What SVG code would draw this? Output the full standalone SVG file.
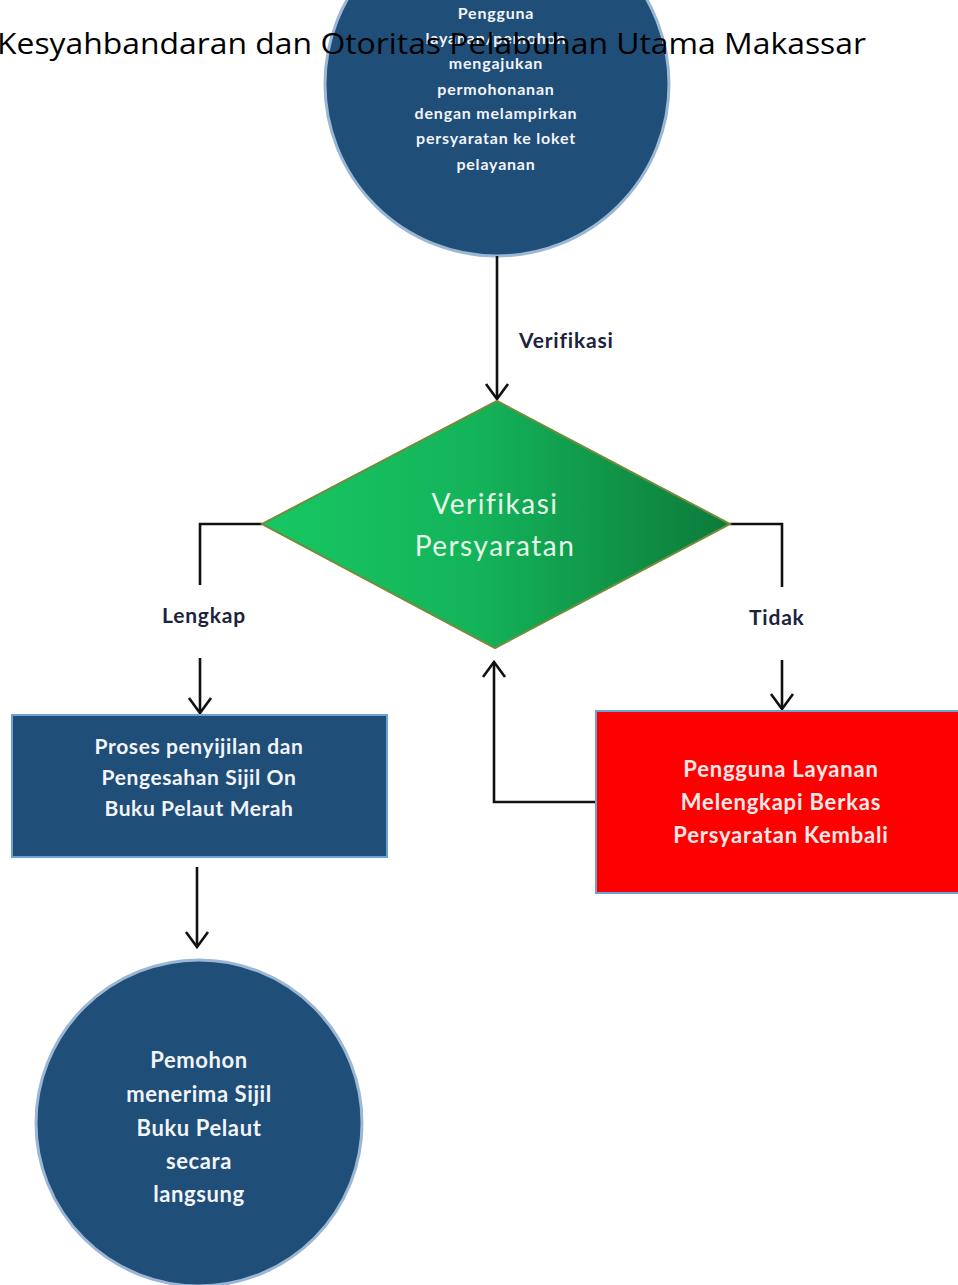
<svg xmlns="http://www.w3.org/2000/svg" width="958" height="1285" viewBox="0 0 958 1285">
<defs>
<linearGradient id="gd" x1="0" y1="0" x2="1" y2="0">
<stop offset="0" stop-color="#17c763"/>
<stop offset="0.45" stop-color="#14b45a"/>
<stop offset="1" stop-color="#0c7a3a"/>
</linearGradient>
<marker id="arr" viewBox="-18 -13 20 26" markerWidth="20" markerHeight="26" refX="0" refY="0" orient="auto" markerUnits="userSpaceOnUse">
<path d="M-15,-11 L0,0 L-15,11" fill="none" stroke="#111" stroke-width="2.6"/>
</marker>
<style>
.node-t{font-family:Lato,"Open Sans",sans-serif;fill:#f2f4f8;text-anchor:middle}
.lbl{font-family:Lato,"Open Sans",sans-serif;fill:#1c2340;font-size:21px;font-weight:bold;letter-spacing:0.8px}
.con{fill:none;stroke:#111;stroke-width:2.6}
.circ{fill:#1f4e79;stroke:#9bb7d3;stroke-width:3}
</style>
</defs>
<g id="start">
<circle class="circ" cx="497" cy="84" r="172"/>
<g class="node-t" font-size="16" font-weight="bold" letter-spacing="0.8">
<text x="496" y="19">Pengguna</text>
<text x="496" y="44">layanan/pemohon</text>
<text x="496" y="69">mengajukan</text>
<text x="496" y="95">permohonanan</text>
<text x="496" y="119">dengan melampirkan</text>
<text x="496" y="144">persyaratan ke loket</text>
<text x="496" y="170">pelayanan</text>
</g>
</g>
<g id="title">
<text x="-3" y="54" font-family="'Open Sans','Noto Sans',sans-serif" font-size="29" fill="#000" textLength="869" lengthAdjust="spacingAndGlyphs">Kesyahbandaran dan Otoritas Pelabuhan Utama Makassar</text>
</g>
<g id="connectors">
<path class="con" d="M497,256 V399" marker-end="url(#arr)"/>
<path class="con" d="M262,524 H200 V585"/>
<path class="con" d="M200,658 V713" marker-end="url(#arr)"/>
<path class="con" d="M730,524 H782 V587"/>
<path class="con" d="M782,660 V709" marker-end="url(#arr)"/>
<path class="con" d="M596,802 H494 V662" marker-end="url(#arr)"/>
<path class="con" d="M197,867 V947" marker-end="url(#arr)"/>
<text class="lbl" x="519" y="348">Verifikasi</text>
<text class="lbl" x="162" y="623">Lengkap</text>
<text class="lbl" x="749" y="625">Tidak</text>
</g>
<g id="decision">
<polygon points="497,401 730,524 495,648 262,524" fill="url(#gd)" stroke="#6f8d3c" stroke-width="2"/>
<g class="node-t" font-size="28" letter-spacing="1.5">
<text x="495" y="514" style="fill:#e6f6ea">Verifikasi</text>
<text x="495" y="556" style="fill:#e6f6ea">Persyaratan</text>
</g>
</g>
<g id="process">
<rect x="12" y="715" width="375" height="142" fill="#1f4e79" stroke="#6ea0d2" stroke-width="2"/>
<g class="node-t" font-size="21" font-weight="bold" letter-spacing="0.6">
<text x="199" y="754">Proses penyijilan dan</text>
<text x="199" y="785">Pengesahan Sijil On</text>
<text x="199" y="816">Buku Pelaut Merah</text>
</g>
</g>
<g id="revise">
<rect x="596" y="711" width="370" height="182" fill="#ff0000" stroke="#6ea0d2" stroke-width="2"/>
<g class="node-t" font-size="22" font-weight="bold" letter-spacing="0.8" style="fill:#fde8e8">
<text x="781" y="777">Pengguna Layanan</text>
<text x="781" y="810">Melengkapi Berkas</text>
<text x="781" y="843">Persyaratan Kembali</text>
</g>
</g>
<g id="end">
<circle class="circ" cx="199" cy="1123" r="163"/>
<g class="node-t" font-size="22" font-weight="bold" letter-spacing="0.6">
<text x="199" y="1068">Pemohon</text>
<text x="199" y="1102">menerima Sijil</text>
<text x="199" y="1136">Buku Pelaut</text>
<text x="199" y="1169">secara</text>
<text x="199" y="1202">langsung</text>
</g>
</g>
</svg>
